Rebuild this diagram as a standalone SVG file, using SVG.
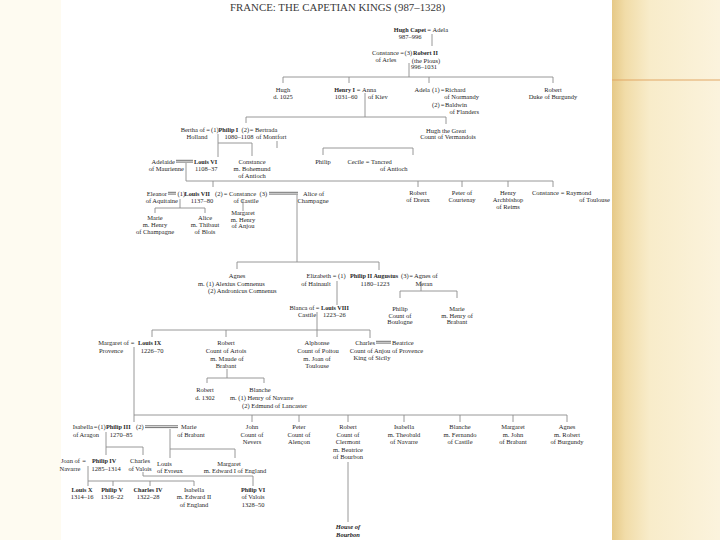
<svg xmlns="http://www.w3.org/2000/svg" width="720" height="540" viewBox="0 0 720 540">
<defs>
<linearGradient id="rg" x1="0" y1="0" x2="1" y2="0">
<stop offset="0" stop-color="#e6c987"/>
<stop offset="0.12" stop-color="#f1dca8"/>
<stop offset="0.35" stop-color="#f8ecca"/>
<stop offset="1" stop-color="#fbf3dd"/>
</linearGradient>
<style>
text{font-family:"Liberation Serif","DejaVu Serif",serif;font-size:6.5px;fill:#262626}
.b{font-weight:bold;font-size:6.2px}
.m{text-anchor:middle}
.e{text-anchor:end}
.ln{stroke:#8c8c8c;stroke-width:0.9;fill:none}
.dbl{stroke:#333;stroke-width:0.7;fill:none}
</style>
</defs>
<rect x="0" y="0" width="720" height="540" fill="#fcf7e8"/>
<rect x="0" y="0" width="61" height="540" fill="#fefbf1"/>
<rect x="61" y="0" width="551" height="540" fill="#ffffff"/>
<rect x="612" y="0" width="108" height="540" fill="url(#rg)"/>
<line x1="612" y1="80" x2="720" y2="80" stroke="#e2a866" stroke-width="1.2"/>

<text x="230" y="11" font-size="10" style="font-size:10px;fill:#3a3a3a" textLength="215" lengthAdjust="spacingAndGlyphs">FRANCE: THE CAPETIAN KINGS (987–1328)</text>

<g id="connectors">
<path class="ln" d="M432,34V46"/>
<path class="ln" d="M409,63V77M283,83V77H553V83M349,77V83M429,77V83"/>
<path class="ln" d="M365,93V117M246,123V117H446V124"/>
<path class="ln" d="M218,134V157M218,143H252V156"/>
<path class="ln" d="M277,141V148M323,155V148H413V155"/>
<path class="ln" d="M186,163V181H553V187M213,181V187M418,181V187M462,181V187M508,181V187"/>
<path class="ln" d="M180,199V208M155,213V208H205V213"/>
<path class="ln" d="M243,199V211"/>
<path class="ln" d="M297,195V262M237,269V262H379V270"/>
<path class="ln" d="M337,281V305"/>
<path class="ln" d="M421,281V291M400,298V291H457V298"/>
<path class="ln" d="M317,312V337M152,337V330H370V338M226,330V337"/>
<path class="ln" d="M134,347V422M134,415H567V422M252,415V422M299,415V422M348,415V422M404,415V422M460,415V422M513,415V422"/>
<path class="ln" d="M227,369V378M207,383V378H264V383"/>
<path class="ln" d="M348,462V522"/>
<path class="ln" d="M106,432V455M106,447H143V455"/>
<path class="ln" d="M170,429V458M170,449H235V458"/>
<path class="ln" d="M88,466V481M88,486V481H194V486M113,481V486M150,481V486"/>
<path class="ln" d="M143,472V476H253V486"/>
<path class="dbl" d="M168,192.3H176M168,194.1H176"/>
<path class="dbl" d="M176,160.3H193M176,162.1H193"/>
<path class="dbl" d="M269,192.3H298M269,194.1H298"/>
<path class="dbl" d="M376,341.3H391M376,343.1H391"/>
<path class="dbl" d="M145,425.8H178M145,427.6H178"/>
</g>

<g id="hugh-capet">
<text class="b e" x="426" y="31.5">Hugh Capet</text><text class="m" x="429" y="31.5">=</text><text x="432.5" y="31.5">Adela</text>
<text class="m" x="410" y="38.5">987–996</text>
</g>
<g id="robert-ii">
<text class="e" x="399" y="55">Constance</text><text class="m" x="402" y="55">=</text><text x="404.5" y="55">(3)</text><text class="b" x="413" y="55">Robert II</text>
<text class="m" x="386" y="61.5">of Arles</text>
<text class="m" x="426" y="62.5">(the Pious)</text>
<text class="m" x="424" y="69">996–1031</text>
</g>
<g id="hugh">
<text class="m" x="283" y="91.5">Hugh</text>
<text class="m" x="283" y="99">d. 1025</text>
</g>
<g id="henry-i">
<text class="b e" x="355" y="91.5">Henry I</text><text class="m" x="358.5" y="91.5">=</text><text x="362" y="91.5">Anna</text>
<text class="m" x="346" y="99">1031–60</text><text x="368" y="99">of Kiev</text>
</g>
<g id="adela">
<text class="e" x="430" y="91.5">Adela</text><text x="432" y="91.5">(1)</text><text class="m" x="442.5" y="91.5">=</text><text x="445" y="91.5">Richard</text>
<text class="e" x="479" y="99">of Normandy</text>
<text x="432" y="106.5">(2)</text><text class="m" x="442.5" y="106.5">=</text><text x="445" y="106.5">Baldwin</text>
<text class="e" x="479" y="114">of Flanders</text>
</g>
<g id="robert-burgundy">
<text class="m" x="553" y="91.5">Robert</text>
<text class="m" x="553" y="99">Duke of Burgundy</text>
</g>
<g id="hugh-great">
<text class="m" x="446" y="132.5">Hugh the Great</text>
<text class="m" x="448" y="139">Count of Vermandois</text>
</g>
<g id="philip-i">
<text class="e" x="205" y="131.5">Bertha of</text><text class="m" x="208" y="131.5">=</text><text x="211" y="131.5">(1)</text><text class="b" x="218.5" y="131.5">Philip I</text><text x="241.5" y="131.5">(2)</text><text class="m" x="251.5" y="131.5">=</text><text x="255" y="131.5">Bertrada</text>
<text class="m" x="197" y="139">Holland</text><text class="m" x="239" y="139">1080–1108</text><text x="256" y="139">of Montfort</text>
</g>
<g id="louis-vi">
<text class="e" x="175" y="163.5">Adelaide</text><text class="b" x="194" y="163.5">Louis VI</text>
<text class="e" x="184" y="170.5">of Maurienne</text><text x="195" y="170.5">1108–37</text>
</g>
<g id="constance-bohemund">
<text class="m" x="252" y="163.5">Constance</text>
<text class="m" x="252" y="170.5">m. Bohemund</text>
<text class="m" x="252" y="177.5">of Antioch</text>
</g>
<g id="philip">
<text class="m" x="323" y="163.5">Philip</text>
</g>
<g id="cecile">
<text class="e" x="364" y="163.5">Cecile</text><text class="m" x="367.5" y="163.5">=</text><text x="371" y="163.5">Tancred</text>
<text x="380" y="170.5">of Antioch</text>
</g>
<g id="louis-vii">
<text class="e" x="167" y="195.5">Eleanor</text><text x="177.5" y="195.5">(1)</text><text class="b" x="184.5" y="195.5">Louis VII</text><text x="215" y="195.5">(2)</text><text class="m" x="225.5" y="195.5">=</text><text x="229" y="195.5">Constance</text><text x="259.5" y="195.5">(3)</text><text x="303" y="195.5">Alice of</text>
<text class="e" x="178" y="203">of Aquitaine</text><text class="m" x="202" y="203">1137–80</text><text class="m" x="246" y="203">of Castile</text><text class="m" x="313" y="203">Champagne</text>
</g>
<g id="robert-dreux">
<text class="m" x="418" y="195">Robert</text>
<text class="m" x="418" y="202">of Dreux</text>
</g>
<g id="peter-courtenay">
<text class="m" x="462" y="195">Peter of</text>
<text class="m" x="462" y="202">Courtenay</text>
</g>
<g id="henry-reims">
<text class="m" x="508" y="195">Henry</text>
<text class="m" x="508" y="202">Archbishop</text>
<text class="m" x="508" y="209">of Reims</text>
</g>
<g id="constance-raymond">
<text class="e" x="559" y="195">Constance</text><text class="m" x="562.5" y="195">=</text><text x="566" y="195">Raymond</text>
<text class="e" x="610" y="202">of Toulouse</text>
</g>
<g id="marie-champagne">
<text class="m" x="155" y="220">Marie</text>
<text class="m" x="155" y="226.5">m. Henry</text>
<text class="m" x="155" y="233.5">of Champagne</text>
</g>
<g id="alice-blois">
<text class="m" x="205" y="220">Alice</text>
<text class="m" x="205" y="226.5">m. Thibaut</text>
<text class="m" x="205" y="233.5">of Blois</text>
</g>
<g id="margaret-anjou">
<text class="m" x="243" y="215">Margaret</text>
<text class="m" x="243" y="221.5">m. Henry</text>
<text class="m" x="243" y="228">of Anjou</text>
</g>
<g id="agnes">
<text class="m" x="237" y="278">Agnes</text>
<text x="198" y="285.5">m. (1) Alexius Comnenus</text>
<text x="208" y="293">(2) Andronicus Comnenus</text>
</g>
<g id="philip-ii">
<text class="e" x="331" y="278">Elizabeth</text><text class="m" x="334.5" y="278">=</text><text x="338" y="278">(1)</text><text class="b" x="350" y="278">Philip II Augustus</text><text x="401" y="278">(3)</text><text class="m" x="411" y="278">=</text><text x="414" y="278">Agnes of</text>
<text class="m" x="316" y="285.5">of Hainault</text><text class="m" x="375" y="285.5">1180–1223</text><text class="m" x="424" y="285.5">Meran</text>
</g>
<g id="philip-boulogne">
<text class="m" x="400" y="310.5">Philip</text>
<text class="m" x="400" y="317.5">Count of</text>
<text class="m" x="400" y="324">Boulogne</text>
</g>
<g id="marie-brabant">
<text class="m" x="457" y="310.5">Marie</text>
<text class="m" x="457" y="317.5">m. Henry of</text>
<text class="m" x="457" y="324">Brabant</text>
</g>
<g id="louis-viii">
<text class="e" x="314.5" y="310">Blanca of</text><text class="m" x="317.5" y="310">=</text><text class="b" x="321" y="310">Louis VIII</text>
<text class="m" x="307" y="316.5">Castile</text><text x="323" y="316.5">1223–26</text>
</g>
<g id="louis-ix">
<text class="e" x="129" y="344.5">Margaret of</text><text class="m" x="132.5" y="344.5">=</text><text class="b" x="138" y="344.5">Louis IX</text>
<text class="m" x="111" y="352.5">Provence</text><text class="m" x="152" y="352.5">1226–70</text>
</g>
<g id="robert-artois">
<text class="m" x="226" y="344.5">Robert</text>
<text class="m" x="226" y="352.5">Count of Artois</text>
<text class="m" x="227" y="360.5">m. Maude of</text>
<text class="m" x="226" y="367.5">Brabant</text>
</g>
<g id="alphonse">
<text class="m" x="317" y="344.5">Alphonse</text>
<text class="m" x="318" y="352.5">Count of Poitou</text>
<text class="m" x="317" y="360.5">m. Joan of</text>
<text class="m" x="317" y="367.5">Toulouse</text>
</g>
<g id="charles-anjou">
<text class="e" x="375" y="344.5">Charles</text><text x="392" y="344.5">Beatrice</text>
<text class="m" x="370" y="352.5">Count of Anjou</text><text x="392" y="352.5">of Provence</text>
<text class="m" x="372" y="360">King of Sicily</text>
</g>
<g id="robert-1302">
<text class="m" x="205" y="391.5">Robert</text>
<text class="m" x="205" y="400">d. 1302</text>
</g>
<g id="blanche-artois">
<text class="m" x="260" y="391.5">Blanche</text>
<text x="230" y="400">m. (1) Henry of Navarre</text>
<text x="242" y="407.5">(2) Edmund of Lancaster</text>
</g>
<g id="philip-iii">
<text class="e" x="93" y="429">Isabella</text><text class="m" x="95.5" y="429">=</text><text x="98" y="429">(1)</text><text class="b" x="106" y="429">Philip III</text><text x="136" y="429">(2)</text><text x="181" y="429">Marie</text>
<text class="m" x="86" y="436.5">of Aragon</text><text class="m" x="121" y="436.5">1270–85</text><text class="m" x="191" y="436.5">of Brabant</text>
</g>
<g id="john-nevers">
<text class="m" x="252" y="429">John</text>
<text class="m" x="252" y="436.5">Count of</text>
<text class="m" x="252" y="444">Nevers</text>
</g>
<g id="peter-alencon">
<text class="m" x="299" y="429">Peter</text>
<text class="m" x="299" y="436.5">Count of</text>
<text class="m" x="299" y="444">Alençon</text>
</g>
<g id="robert-clermont">
<text class="m" x="348" y="429">Robert</text>
<text class="m" x="348" y="436.5">Count of</text>
<text class="m" x="348" y="444">Clermont</text>
<text class="m" x="348" y="451.5">m. Beatrice</text>
<text class="m" x="348" y="459">of Bourbon</text>
</g>
<g id="isabella-navarre">
<text class="m" x="404" y="429">Isabella</text>
<text class="m" x="404" y="436.5">m. Theobald</text>
<text class="m" x="404" y="444">of Navarre</text>
</g>
<g id="blanche-castile">
<text class="m" x="460" y="429">Blanche</text>
<text class="m" x="460" y="436.5">m. Fernando</text>
<text class="m" x="460" y="444">of Castile</text>
</g>
<g id="margaret-brabant">
<text class="m" x="513" y="429">Margaret</text>
<text class="m" x="513" y="436.5">m. John</text>
<text class="m" x="513" y="444">of Brabant</text>
</g>
<g id="agnes-burgundy">
<text class="m" x="567" y="429">Agnes</text>
<text class="m" x="567" y="436.5">m. Robert</text>
<text class="m" x="567" y="444">of Burgundy</text>
</g>
<g id="house-bourbon">
<text class="m" x="348" y="529" style="font-weight:bold;font-style:italic">House of</text>
<text class="m" x="348" y="537" style="font-weight:bold;font-style:italic">Bourbon</text>
</g>
<g id="philip-iv">
<text class="e" x="80" y="462.5">Joan of</text><text class="m" x="84" y="462.5">=</text><text class="b" x="92" y="462.5">Philip IV</text>
<text class="m" x="70" y="470.5">Navarre</text><text class="m" x="106" y="470.5">1285–1314</text>
</g>
<g id="charles-valois">
<text class="m" x="140" y="462.5">Charles</text>
<text class="m" x="140" y="470.5">of Valois</text>
</g>
<g id="louis-evreux">
<text x="157" y="465.5">Louis</text>
<text x="157" y="472.5">of Evreux</text>
</g>
<g id="margaret-england">
<text class="m" x="229" y="465.5">Margaret</text>
<text class="m" x="235" y="472.5">m. Edward I of England</text>
</g>
<g id="louis-x">
<text class="b m" x="82" y="491.5">Louis X</text>
<text class="m" x="82" y="499">1314–16</text>
</g>
<g id="philip-v">
<text class="b m" x="112" y="491.5">Philip V</text>
<text class="m" x="112" y="499">1316–22</text>
</g>
<g id="charles-iv">
<text class="b m" x="148" y="491.5">Charles IV</text>
<text class="m" x="148" y="499">1322–28</text>
</g>
<g id="isabella-england">
<text class="m" x="194" y="491.5">Isabella</text>
<text class="m" x="194" y="499">m. Edward II</text>
<text class="m" x="194" y="506.5">of England</text>
</g>
<g id="philip-vi">
<text class="b m" x="253" y="491.5">Philip VI</text>
<text class="m" x="253" y="499">of Valois</text>
<text class="m" x="253" y="506.5">1328–50</text>
</g>
</svg>
